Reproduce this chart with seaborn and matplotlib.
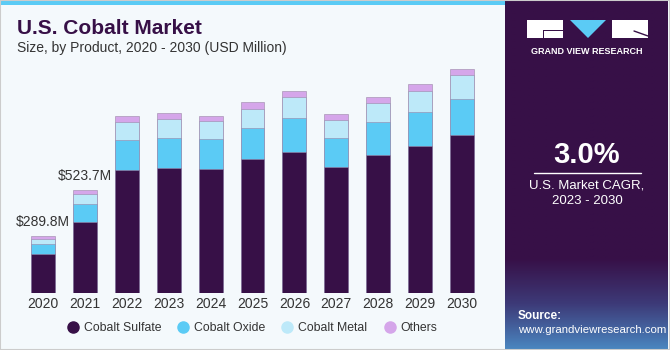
import numpy as np
import pandas as pd
import seaborn as sns
from matplotlib import pyplot as plt
from matplotlib.lines import Line2D
from matplotlib.patches import Rectangle, Polygon
from matplotlib.colors import LinearSegmentedColormap

years = ["2020", "2021", "2022", "2023", "2024", "2025", "2026", "2027", "2028", "2029", "2030"]
sulfate = [197.0, 363.0, 625, 637, 629, 680, 718, 639, 703, 747, 803]
oxide = [54.0, 89.7, 152, 152, 154, 157, 172, 147, 164, 174, 184]
metal = [25.5, 50.7, 91, 95, 91, 98, 105, 94, 96, 106, 119]
others = [13.3, 20.3, 32, 29, 27, 34, 32, 29, 33, 34, 30]
series_names = ["Cobalt Sulfate", "Cobalt Oxide", "Cobalt Metal", "Others"]
colors = ["#371047", "#5BCBF5", "#BDE9F9", "#D5A6EA"]
labels = {"2020": "$289.8M", "2021": "$523.7M"}

bg = "#F4F9FC"
dark = "#371047"

df = pd.DataFrame({"year": years, "s": sulfate, "o": oxide, "m": metal, "t": others})
df["c1"] = df["s"]
df["c2"] = df["c1"] + df["o"]
df["c3"] = df["c2"] + df["m"]
df["c4"] = df["c3"] + df["t"]

sns.set_theme(style="white")
plt.rcParams["font.family"] = ["Liberation Sans", "DejaVu Sans"]

fig = plt.figure(figsize=(6.7, 3.5), dpi=100)
fig.patch.set_facecolor(bg)

ax = fig.add_axes([22 / 670, 56.7 / 350, 461 / 670, 233.3 / 350])
ax.set_facecolor(bg)

# stacked bars drawn as overlapping cumulative totals
for col, c in zip(["c4", "c3", "c2", "c1"], colors[::-1]):
    sns.barplot(data=df, x="year", y=col, color=c, width=0.57, ax=ax,
                order=years, edgecolor="#9a86a8", linewidth=0.4, saturation=1)

ax.set_xlim(-0.5, 10.5)
ax.set_ylim(0, 1183)
ax.set_xlabel("")
ax.set_ylabel("")
ax.set_yticks([])
sns.despine(ax=ax, left=True, bottom=True)
ax.tick_params(axis="x", length=0, pad=3, labelsize=10, labelcolor="#333333")

for i, y in enumerate(years):
    if y in labels:
        ax.annotate(labels[y], (i, df["c4"][i]), xytext=(0, 10), textcoords="offset points",
                    ha="center", va="center", fontsize=10, color="#333333")

handles = [Line2D([], [], marker="o", linestyle="", markersize=8, color=c) for c in colors]
fig.legend(handles, series_names, loc="center", bbox_to_anchor=(252 / 670, 1 - 328 / 350),
           ncol=4, frameon=False, fontsize=8.8, handlelength=1.0, handletextpad=0.4,
           columnspacing=1.3, labelcolor="#333333")

# titles
fig.text(17 / 670, 1 - 28 / 350, "U.S. Cobalt Market", fontsize=15, fontweight="bold",
         color=dark, va="center", ha="left")
fig.text(17 / 670, 1 - 48 / 350, "Size, by Product, 2020 - 2030 (USD Million)", fontsize=10,
         color="#333333", va="center", ha="left")

# top blue strip
fig.add_artist(Rectangle((0, 1 - 5 / 350), 505 / 670, 5 / 350, transform=fig.transFigure,
                         facecolor="#5BCBF5", edgecolor="none"))

# right panel
side = fig.add_axes([505 / 670, 0, 162 / 670, 1])
side.axis("off")
cmap = LinearSegmentedColormap.from_list("g", [dark, "#3d3a78", "#4a86c0"])
grad = np.linspace(0, 1, 200).reshape(-1, 1)
side.imshow(np.clip((grad - 0.74) / 0.26, 0, 1), cmap=cmap, aspect="auto",
            extent=(505, 667, 350, 0), vmin=0, vmax=1)
side.set_xlim(505, 667)
side.set_ylim(350, 0)

# logo
side.add_patch(Rectangle((527, 20), 36, 18, facecolor="white", edgecolor="none"))
side.add_patch(Rectangle((543, 30), 20, 1.2, facecolor=dark, edgecolor="none"))
side.add_patch(Rectangle((543, 30), 1.2, 8, facecolor=dark, edgecolor="none"))
side.add_patch(Polygon([(570, 20), (606, 20), (588, 38)], closed=True, facecolor="#5BCBF5",
                       edgecolor="none"))
side.add_patch(Rectangle((612, 20), 36, 18, facecolor="white", edgecolor="none"))
side.plot([634, 648], [31, 36], color=dark, lw=1)
side.text(587, 51, "GRAND VIEW RESEARCH", color="white", fontsize=6.5, fontweight="bold",
          ha="center", va="center")

side.text(587, 155, "3.0%", color="white", fontsize=21, fontweight="bold",
          ha="center", va="center")
side.plot([534, 641], [173, 173], color="white", lw=1)
side.text(587, 185, "U.S. Market CAGR,", color="white", fontsize=9.5, ha="center", va="center")
side.text(587, 201, "2023 - 2030", color="white", fontsize=9.5, ha="center", va="center")
side.text(518, 316, "Source:", color="white", fontsize=8.5, fontweight="bold",
          ha="left", va="center")
side.text(518, 330, "www.grandviewresearch.com", color="white", fontsize=8.2,
          ha="left", va="center")

# thin outer border
fig.add_artist(Rectangle((0, 0), 1, 1, transform=fig.transFigure, facecolor="none",
                         edgecolor="#cccccc", lw=1.5))

fig.savefig("out.png", dpi=100, facecolor=bg)
